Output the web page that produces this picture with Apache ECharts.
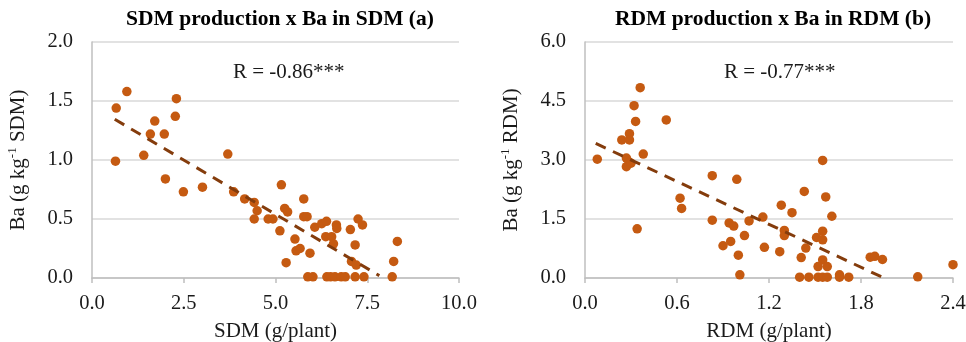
<!DOCTYPE html>
<html><head><meta charset="utf-8">
<script src="https://cdn.jsdelivr.net/npm/echarts@6/dist/echarts.min.js"></script>
<style>html,body{margin:0;padding:0;background:#fff}#c{width:966px;height:342px}</style>
</head><body><div id="c"></div>
<script>
// Panel (a): SDM production x Ba in SDM
var sdmX  = [0.66,0.95,0.64,1.71,1.59,1.97,1.41,2.00,2.30,2.27,2.49,3.01,3.70,3.86,4.16,4.42,4.50,4.42,4.80,4.93,5.16,5.12,5.25,5.33,5.29,5.53,5.56,5.67,5.77,5.77,5.86,5.94,6.07,6.26,6.39,6.37,6.53,6.66,6.67,6.58,7.04,7.25,7.37,7.17,7.07,7.20,8.22,8.32,5.88,6.02,6.40,6.50,6.62,6.79,6.90,7.17,7.41,8.18];
var sdmBa = [1.44,1.58,0.99,1.33,1.22,1.22,1.04,0.84,1.52,1.37,0.73,0.77,1.05,0.73,0.67,0.64,0.57,0.50,0.50,0.50,0.79,0.40,0.59,0.56,0.13,0.33,0.23,0.25,0.67,0.52,0.52,0.21,0.43,0.46,0.48,0.35,0.35,0.45,0.42,0.29,0.41,0.50,0.45,0.28,0.14,0.11,0.14,0.31,0.01,0.01,0.01,0.01,0.01,0.01,0.01,0.01,0.01,0.01];
var trendAx = [0.62, 7.83];
var trendAy = [1.345, 0.02];
// Panel (b): RDM production x Ba in RDM
var rdmX  = [0.08,0.36,0.32,0.33,0.53,0.24,0.29,0.29,0.38,0.27,0.29,0.27,0.30,0.34,0.62,0.63,0.83,0.83,0.99,0.94,0.97,1.04,0.90,0.95,1.00,1.01,1.07,1.16,1.17,1.28,1.35,1.30,1.30,1.27,1.43,1.44,1.41,1.40,1.46,1.55,1.57,1.61,1.55,1.51,1.55,1.55,1.52,1.58,1.52,1.55,1.58,1.66,1.66,1.72,1.86,1.89,1.94,2.17,2.40];
var rdmBa = [3.02,4.84,4.38,3.98,4.02,3.51,3.67,3.51,3.15,3.05,2.94,2.83,2.92,1.25,2.03,1.77,2.60,1.47,2.51,1.40,1.32,1.08,0.82,0.93,0.58,0.08,1.45,1.55,0.78,1.85,1.66,1.21,1.08,0.67,2.20,0.76,0.52,0.02,0.02,2.99,2.06,1.57,1.19,1.03,0.97,0.46,0.29,0.29,0.02,0.02,0.02,0.08,0.02,0.02,0.53,0.55,0.47,0.03,0.34];
var trendBx = [0.07, 1.95];
var trendBy = [3.42, 0.0];
var titles = ['SDM production x Ba in SDM (a)', 'RDM production x Ba in RDM (b)'];
var rLabels = ['R = -0.86***', 'R = -0.77***'];
var xNames = ['SDM (g/plant)', 'RDM (g/plant)'];
var yNames = ['{a|Ba (g kg}{s|-1}{a| SDM)}', '{a|Ba (g kg}{s|-1}{a| RDM)}'];

function pairs(xs, ys){ return xs.map(function(x,i){ return [x, ys[i]]; }); }

var FONT = '"Liberation Serif","Times New Roman",serif';
var TXT = '#1a1a1a';
var ptColor = '#c55a11';
var lnColor = '#843c0c';
var fmt1 = function(v){ return (Math.round(v*10)/10).toFixed(1); };

function xAxisCfg(idx, max, interval){
  return {type:'value', gridIndex:idx, min:0, max:max, interval:interval,
    name:xNames[idx], nameLocation:'middle', nameGap:43,
    nameTextStyle:{fontFamily:FONT,fontSize:21,color:TXT},
    axisLine:{show:true,onZero:false,lineStyle:{color:'#bfbfbf',width:1.5}},
    axisTick:{show:true,length:5,lineStyle:{color:'#bfbfbf',width:1.5}},
    axisLabel:{fontFamily:FONT,fontSize:20.5,color:TXT,margin:15,formatter:fmt1},
    splitLine:{show:false}};
}
function yAxisCfg(idx, max, interval){
  return {type:'value', gridIndex:idx, min:0, max:max, interval:interval,
    name:yNames[idx], nameLocation:'middle', nameGap:62, nameRotate:90,
    nameTextStyle:{fontFamily:FONT,fontSize:21,color:TXT,
      rich:{a:{fontFamily:FONT,fontSize:21,color:TXT,lineHeight:24},
            s:{fontFamily:FONT,fontSize:13,color:TXT,verticalAlign:'top',lineHeight:24}}},
    axisLine:{show:true,lineStyle:{color:'#bfbfbf',width:1.5}},
    axisTick:{show:false},
    axisLabel:{fontFamily:FONT,fontSize:20.5,color:TXT,margin:19,formatter:fmt1},
    splitLine:{show:true,lineStyle:{color:'#d9d9d9',width:1.5}}};
}

var chart = echarts.init(document.getElementById('c'), null, {renderer:'canvas'});
chart.setOption({
  animation:false,
  backgroundColor:'#ffffff',
  title:[
    {text:titles[0], left:275, top:3, textAlign:'center', textStyle:{fontFamily:FONT,fontSize:21.5,fontWeight:'bold',color:'#000'}},
    {text:titles[1], left:768, top:3, textAlign:'center', textStyle:{fontFamily:FONT,fontSize:21.5,fontWeight:'bold',color:'#000'}}
  ],
  grid:[
    {left:92, right:507, top:42, bottom:64, outerBoundsMode:'none', containLabel:false},
    {left:585, right:13, top:42, bottom:64, outerBoundsMode:'none', containLabel:false}
  ],
  xAxis:[xAxisCfg(0,10,2.5), xAxisCfg(1,2.4,0.6)],
  yAxis:[yAxisCfg(0,2,0.5), yAxisCfg(1,6,1.5)],
  graphic:[
    {type:'text', left:233, top:62, style:{text:rLabels[0], font:'21px '+FONT, fill:TXT}},
    {type:'text', left:724, top:62, style:{text:rLabels[1], font:'21px '+FONT, fill:TXT}}
  ],
  series:[
    {type:'scatter', xAxisIndex:0, yAxisIndex:0, data:pairs(sdmX,sdmBa), symbolSize:9.5, itemStyle:{color:ptColor,opacity:1}, z:3},
    {type:'line', xAxisIndex:0, yAxisIndex:0, data:pairs(trendAx,trendAy), symbol:'none', lineStyle:{color:lnColor,width:3,type:[11,8]}, z:4},
    {type:'scatter', xAxisIndex:1, yAxisIndex:1, data:pairs(rdmX,rdmBa), symbolSize:9.5, itemStyle:{color:ptColor,opacity:1}, z:3},
    {type:'line', xAxisIndex:1, yAxisIndex:1, data:pairs(trendBx,trendBy), symbol:'none', lineStyle:{color:lnColor,width:3,type:[11,8]}, z:4}
  ]
});
</script></body></html>
